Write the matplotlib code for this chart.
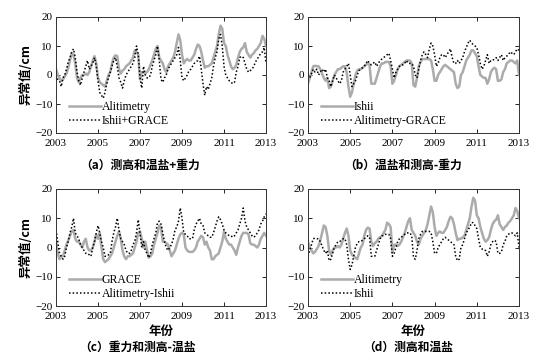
import numpy as np
import matplotlib
matplotlib.use('Agg')
import matplotlib.pyplot as plt


# monthly values, Jan 2003 .. Jan 2013 (cm)
years = 2003 + np.arange(121) / 12.0

altimetry = [2, 0, -1, -2, -1.5, -0.5, 0.5, 2.5, 5, 7.5, 7, 4,
             -1, -2.5, -1, 0, 0, 0.5, 0, 1, 3, 5, 6.5, 4,
             -1, -2.5, -3, -3.5, -4, -2, 0, 1, 4, 6, 6.8, 6.5,
             2, 0.5, 1.5, 2, 3, 3.5, 4, 5, 6, 8.5, 8, 7,
             -1.5, 1, 1, 0.5, 1, 2, 3.5, 5, 7, 9, 10, 6,
             5, 4, 2, 1, 3, 4, 5, 6, 8, 11, 14, 12,
             7, 4, 5, 5.5, 5, 5, 6, 7, 9, 10.5, 10, 8,
             5, 2.5, 3, 3, 3.5, 4, 6, 8, 10, 14, 17, 16,
             11, 10, 7, 5, 3, 2, 2.5, 3.5, 6, 8, 9, 9.5,
             11, 8, 7, 6, 7, 7.5, 8.5, 9, 10, 11, 13.5, 12.5,
             10]

ishii = [-3, -1, 1, 3, 3.2, 3, 3, 2, 0.5, -1, -2, -1,
         -4.5, -4, -2, 0, 1, 2, 2, 2.5, 3, 3, 1, -4,
         -7.5, -6, -3, 0, 1.5, 2, 2, 2.5, 3, 3.5, 4, 3.5,
         -3, -3, -3, -1, 1, 3, 4, 4, 4.5, 4.5, 4.5, 3,
         -3, -2, 0, 2, 3, 3.5, 4, 4.5, 5, 5, 5, 4,
         -3.5, -4, -1, 3, 4.5, 5.5, 5.5, 5.5, 5.5, 5.5, 5, 2,
         -2, -2, 0, 1, 2, 3, 3.5, 3, 2.5, 2, 1.5, 1,
         -3, -4.5, -4, 0, 1, 3, 5, 6, 7, 8.5, 8.5, 7.5,
         6.5, 3, 0, -0.5, -1, -1, -3, -1.5, 1, 2, 2.5, 2,
         -2, -2, -1.5, 1, 2, 4, 4.5, 5, 5, 4.5, 4, 5,
         0]

grace = [2, -2, -4, -3, -3, -1, 1, 2.5, 4, 5.5, 6, 3,
         2, 2, 1, 0, 2, 3, 0, -1, -1, 0, 2, 4.5,
         3, 5, 0, -4, -5, -4.5, -4, -3, -2, 0, 2, 4,
         5.5, 3, -1, -3, -4, -3, -3, -2.5, -2, 0, 2, 5,
         5.5, 3, 0, 2, -1, -3.5, -3, -2, 1, 3, 5, 7.5,
         7, 2, 2, 1.5, 1, -1, -3, -2, -1, 1, 3, 4.5,
         5, 4.5, 0, -1, -1.5, -1.5, -1.5, -1, 0, 2, 3, 4,
         3.5, 1, 2, 0, -1, -4, -4, -3, -2.5, -2, 0, 2,
         5.5, 3, 2, 1, 1, 0, -1, -2.5, 0, 2, 4, 5,
         5, 5, 4.5, 1.5, 1, 1, 0.5, 0, 1, 3, 4, 5,
         4]

ishii_grace = [0, -1.5, -2, -4, -1, 0, 2, 4.5, 6, 8, 9, 6,
               1, -2, -3.5, -1, 1, 3, 5, 2, 3, 4, 6, 3,
               -2, -6, -7, -8, -6, -3, -1, 1, 3, 5, 6, 3,
               -1, -2.5, -4.5, -2, 0, 1, 2, 3, 4, 6, 10, 7,
               -1, -4.5, 3, 0, -1, -1, 0, 3, 5, 7, 10, 5,
               -1.5, -2.5, -1, 0, 2, 3, 4, 5, 6, 7, 9.5, 5,
               -1, -2, -1, 0, 1.5, 2, 3, 4, 4.5, 5, 6.5, 2,
               -3, -7, -4, -5, -3, -1, 3, 6, 8, 12.5, 14, 10,
               3, 0, -1, -2, -2.5, -3, -2.5, 1, 3, 6, 6.5, 6,
               4, 2, 1, 1.5, 2, 3, 4.5, 5.5, 6.5, 7.5, 8, 9.5,
               4]

alti_grace = [0, -1, 0.5, 2, 1, 2, 0, 1, 2, 1, 2, -1,
              -2, -4, -2, 0, -1, -2, -3, -2, 1, 2, 3, 4,
              0, -4, -3, -2, 0, 1.5, 2, 2.5, 3, 4, 5, 4,
              3.5, 4, 4.5, 3, 4, 5, 5.5, 6, 6.5, 7, 7.5, 5,
              2, -1, 1, 2, 3, 3.5, 3.5, 4, 5, 4, 4, 4,
              3, 0, -1, 2, 5, 7, 8, 7, 6, 9, 11, 10,
              7, 3, 4, 6, 7, 7, 6, 7, 8, 9, 6, 4,
              4, 5, 4, 5, 6, 8, 9.5, 11, 12, 11, 10.5, 10,
              9.5, 7, 4, 2, 3, 5, 7, 4, 5, 5, 5.5, 6,
              5, 6, 7, 5, 6, 6.5, 7, 8, 7.5, 7, 8, 9,
              8.5]

alti_ishii = [6, 2, -2, -3, -4, -3, 0, 2, 5, 7, 10, 5,
              4, 3, 1, 0, -1, -2, -2, -2.5, -3, 0, 2, 5,
              7.5, 5, 2, 0, -3, -3, -2.5, -2, 2, 5, 7, 10,
              6, 3, 2, 1, -1, -2, -2, -1, 1, 2, 5, 9.5,
              5, 0, 2, -1, -2, -3.5, -2, 1, 3, 5, 8.5, 9,
              8, 5, 2, 0, -1, 0, 1, 3, 6, 7, 9, 13.5,
              10, 5, 4.5, 4, 3, 3, 3, 6, 8, 9, 10, 8,
              7.5, 5, 4.5, 4, 3.5, 3.5, 5, 7, 9, 10.5, 9.5, 8,
              6, 5, 4.5, 4, 4, 3.5, 4, 5, 6, 8, 10, 13.5,
              9, 7, 6, 5, 4, 3.5, 4, 5, 6, 8, 9, 10.5,
              11.5]

panels = [
    (altimetry, 'Alitimetry', ishii_grace, 'Ishii+GRACE', '（a）测高和温盐+重力'),
    (ishii, 'Ishii', alti_grace, 'Alitimetry-GRACE', '（b）温盐和测高-重力'),
    (grace, 'GRACE', alti_ishii, 'Alitimetry-Ishii', '（c）重力和测高-温盐'),
    (altimetry, 'Alitimetry', ishii, 'Ishii', '（d）测高和温盐'),
]

serif = ['Liberation Serif', 'DejaVu Serif']
cjk = ['Noto Sans CJK SC', 'DejaVu Sans']

W, H = 541, 360
fig = plt.figure(figsize=(W / 100, H / 100), dpi=100)

# axes boxes in pixels: left, top, right, bottom
boxes = [(56, 17, 266, 133), (308, 17, 519, 133),
         (56, 189, 266, 306), (308, 189, 519, 306)]
caption_xy = [(140, 165), (403, 165), (137, 347), (408, 347)]

for i, (s1, l1, s2, l2, cap) in enumerate(panels):
    l, t, r, b = boxes[i]
    ax = fig.add_axes([l / W, 1 - b / H, (r - l) / W, (b - t) / H])
    ax.plot(years, s1, color='#ababab', lw=1.8, label=l1)
    ax.plot(years, s2, color='black', lw=1.1, ls=(0, (1, 1.4)), label=l2)
    ax.set_xlim(2003, 2013)
    ax.set_ylim(-20, 20)
    ax.set_xticks([2003, 2005, 2007, 2009, 2011, 2013])
    ax.set_yticks([-20, -10, 0, 10, 20])
    ax.tick_params(direction='in', top=True, right=True, length=3, width=0.6,
                   labelsize=8)
    ax.tick_params(axis='x', pad=4.5)
    ax.tick_params(axis='y', pad=2.5)
    for lab in ax.get_xticklabels() + ax.get_yticklabels():
        lab.set_family(serif)
    for sp in ax.spines.values():
        sp.set_linewidth(0.7)
        sp.set_color('#333333')
    ax.legend(loc='lower left', bbox_to_anchor=(0.03, -0.01), frameon=False,
              handlelength=2.7, handletextpad=0.05, labelspacing=0.2,
              borderaxespad=0.2, prop={'family': serif, 'size': 8.5})
    if i % 2 == 0:
        ax.set_ylabel('异常值/cm', family=cjk, fontsize=9, fontweight='bold', labelpad=2)
    if i >= 2:
        ax.set_xlabel('年份', family=cjk, fontsize=9, fontweight='bold', labelpad=3)
    cx, cy = caption_xy[i]
    fig.text(cx / W, 1 - cy / H, cap, ha='center', va='center',
             family=cjk, fontsize=8.5, fontweight='bold')

fig.savefig('out.png', dpi=100)
